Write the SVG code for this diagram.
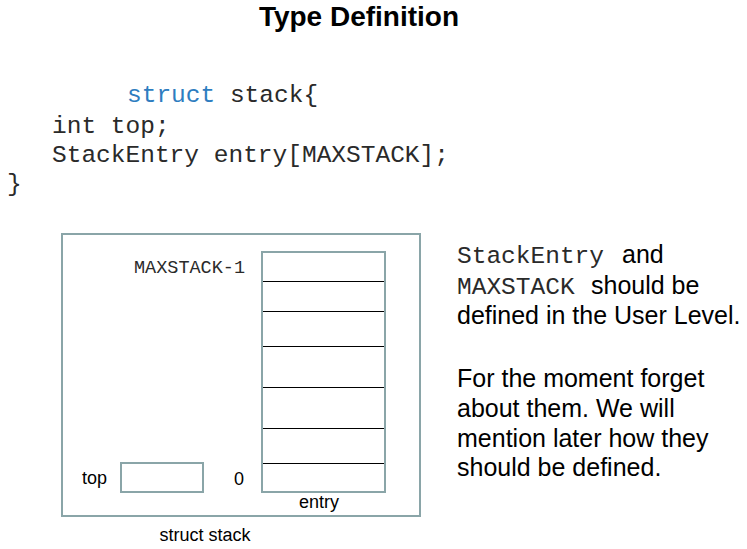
<svg xmlns="http://www.w3.org/2000/svg" width="747" height="549" viewBox="0 0 747 549">
<style>
.sans{font-family:"Liberation Sans",Arial,sans-serif;fill:#000}
.mono{font-family:"Liberation Mono","Courier New",monospace;fill:#2a2a2a}
.frame{fill:none;stroke:#8aa5a8;stroke-width:2}
.cell{stroke:#000;stroke-width:1}
</style>
<rect width="747" height="549" fill="#fff"/>
<text class="sans" x="359" y="26" font-size="28" font-weight="bold" text-anchor="middle">Type Definition</text>
<g id="code" class="mono" font-size="24.5">
<text x="127" y="102"><tspan fill="#2e7dc0">struct</tspan> stack{</text>
<text x="52" y="133">int top;</text>
<text x="52" y="162">StackEntry entry[MAXSTACK];</text>
<text x="7" y="191">}</text>
</g>
<g id="struct-stack">
<rect class="frame" x="62" y="234" width="358" height="282"/>
<text class="sans" x="205" y="541" font-size="18" text-anchor="middle">struct stack</text>
</g>
<g id="entry">
<rect class="frame" x="262" y="252" width="123" height="240"/>
<g class="cell">
<line x1="263" y1="281.5" x2="384" y2="281.5"/>
<line x1="263" y1="311.5" x2="384" y2="311.5"/>
<line x1="263" y1="346.5" x2="384" y2="346.5"/>
<line x1="263" y1="387.5" x2="384" y2="387.5"/>
<line x1="263" y1="428.5" x2="384" y2="428.5"/>
<line x1="263" y1="463.5" x2="384" y2="463.5"/>
</g>
<text class="mono" x="245" y="273" font-size="18.5" text-anchor="end">MAXSTACK-1</text>
<text class="sans" x="244" y="485" font-size="18" text-anchor="end">0</text>
<text class="sans" x="319" y="508" font-size="18" text-anchor="middle">entry</text>
</g>
<g id="top">
<rect class="frame" x="121" y="463" width="82" height="29"/>
<text class="sans" x="82" y="484" font-size="18">top</text>
</g>
<g id="note">
<text class="mono" x="457" y="263" font-size="24.5">StackEntry</text>
<text class="sans" x="622" y="263" font-size="25">and</text>
<text class="mono" x="457" y="294" font-size="24.5">MAXSTACK</text>
<text class="sans" x="591" y="294" font-size="25">should be</text>
<text class="sans" x="457" y="324" font-size="25">defined in the User Level.</text>
<text class="sans" x="457" y="387" font-size="25">For the moment forget</text>
<text class="sans" x="457" y="417" font-size="25">about them. We will</text>
<text class="sans" x="457" y="447" font-size="25">mention later how they</text>
<text class="sans" x="457" y="476" font-size="25">should be defined.</text>
</g>
</svg>
